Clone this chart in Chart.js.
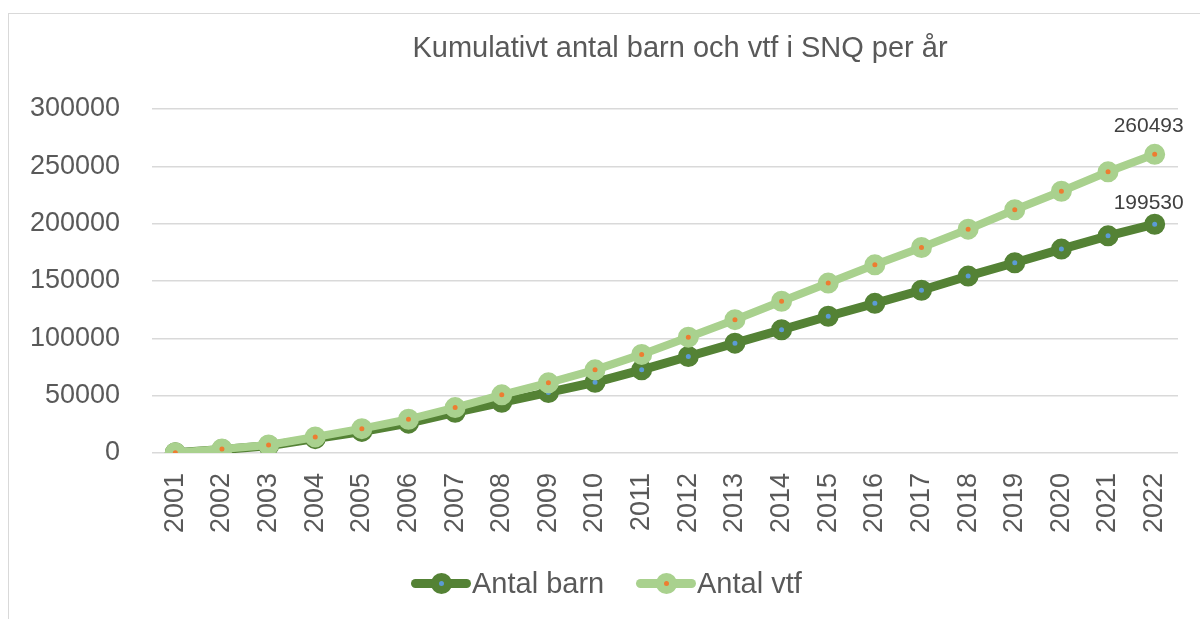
<!DOCTYPE html>
<html>
<head>
<meta charset="utf-8">
<script src="https://cdn.jsdelivr.net/npm/chart.js@4.4.1/dist/chart.umd.min.js"></script>
<style>
  html, body { margin: 0; padding: 0; background: #fff; overflow: hidden; }
  #wrap { position: relative; width: 1200px; height: 619px; overflow: hidden; font-family: "Liberation Sans", Arial, sans-serif; color: #595959; }
  #frame { position: absolute; left: 8px; top: 13px; width: 1400px; height: 800px; border: 1.5px solid #d9d9d9; box-sizing: border-box; }
  #chartBox { position: absolute; left: 0; top: 0; width: 1200px; height: 619px; }
  #title { position: absolute; left: 380px; width: 600px; top: 30px; text-align: center; font-size: 29px; line-height: 34px; }
  .leg { position: absolute; top: 566px; height: 34px; display: flex; align-items: center; font-size: 29px; line-height: 34px; }
  .sym { position: relative; width: 60px; height: 21px; margin-right: 1px; }
  .sym .ln { position: absolute; left: 0; top: 6px; width: 60px; height: 9px; border-radius: 4.5px; }
  .sym .mk { position: absolute; left: 19.5px; top: 0; width: 21px; height: 21px; border-radius: 50%; }
  .sym .dt { position: absolute; left: 27.5px; top: 8px; width: 5px; height: 5px; border-radius: 50%; }
</style>
</head>
<body>
<div id="wrap">
  <div id="frame"></div>
  <div id="chartBox"><canvas id="chart" width="1200" height="619"></canvas></div>
  <div id="title">Kumulativt antal barn och vtf i SNQ per år</div>
  <div class="leg" style="left:411px"><div class="sym"><div class="ln" style="background:#548235"></div><div class="mk" style="background:#548235"></div><div class="dt" style="background:#5b9bd5"></div></div>Antal barn</div>
  <div class="leg" style="left:636px"><div class="sym"><div class="ln" style="background:#a9d18e"></div><div class="mk" style="background:#a9d18e"></div><div class="dt" style="background:#ed7d31"></div></div>Antal vtf</div>
</div>
<script>
// data
const years = ['2001', '2002', '2003', '2004', '2005', '2006', '2007', '2008', '2009', '2010', '2011',
               '2012', '2013', '2014', '2015', '2016', '2017', '2018', '2019', '2020', '2021', '2022'];
const antalBarn = [200, 3000, 6300, 12500, 18800, 26000, 35500, 44200, 52800, 61700, 72500,
                   84200, 95800, 107500, 119300, 130500, 141900, 154300, 165900, 177800, 189400, 199530];
const antalVtf = [300, 3500, 7000, 14000, 21200, 29400, 39600, 50700, 61200, 72500, 86000,
                  101000, 116300, 132300, 148200, 164100, 179200, 195200, 212100, 228300, 245200, 260493];
const yTicks = [0, 50000, 100000, 150000, 200000, 250000, 300000];

// value label above the last point of each series
const lastLabel = {
  id: 'lastLabel',
  afterDatasetsDraw(chart) {
    const ctx = chart.ctx;
    ctx.save();
    ctx.font = '21px "Liberation Sans", Arial, sans-serif';
    ctx.fillStyle = '#404040';
    ctx.textAlign = 'center';
    ctx.textBaseline = 'middle';
    chart.data.datasets.forEach((ds, i) => {
      const meta = chart.getDatasetMeta(i);
      const n = ds.data.length - 1;
      const pt = meta.data[n];
      ctx.fillText(String(ds.data[n]), pt.x - 6, pt.y - ds.labelOffset);
    });
    ctx.restore();
  }
};

const ctx = document.getElementById('chart');

new Chart(ctx, {
  type: 'line',
  data: {
    labels: years,
    datasets: [
      {
        label: 'Antal barn',
        data: antalBarn,
        borderColor: '#548235',
        borderWidth: 9,
        pointRadius: 6.5,
        pointBorderWidth: 8,
        pointBorderColor: '#548235',
        pointBackgroundColor: '#5b9bd5',
        tension: 0,
        order: 1,
        labelOffset: 21
      },
      {
        label: 'Antal vtf',
        data: antalVtf,
        borderColor: '#a9d18e',
        borderWidth: 8,
        pointRadius: 6.5,
        pointBorderWidth: 8,
        pointBorderColor: '#a9d18e',
        pointBackgroundColor: '#ed7d31',
        tension: 0,
        order: 0,
        labelOffset: 28
      }
    ]
  },
  options: {
    responsive: false,
    animation: false,
    layout: { padding: { top: 109, right: 22, bottom: 60, left: 0 } },
    plugins: {
      legend: { display: false },
      title: { display: false },
      tooltip: { enabled: false }
    },
    scales: {
      x: {
        offset: true,
        grid: { display: false, drawTicks: false },
        border: { display: false },
        ticks: {
          color: '#595959',
          font: { family: '"Liberation Sans", Arial, sans-serif', size: 27 },
          minRotation: 90,
          maxRotation: 90,
          padding: 20,
          autoSkip: false
        },
        afterFit(scale) {
          scale.height = 106;
          scale.paddingLeft = 0;
          scale.paddingRight = 0;
        }
      },
      y: {
        min: 0,
        max: 300000,
        afterBuildTicks(scale) { scale.ticks = yTicks.map(v => ({ value: v })); },
        grid: { color: '#d9d9d9', lineWidth: 1.5, drawTicks: false },
        border: { display: false },
        ticks: {
          color: '#595959',
          font: { family: '"Liberation Sans", Arial, sans-serif', size: 27 },
          padding: 32,
          callback: v => String(v)
        },
        afterFit(scale) { scale.width = 152; }
      }
    }
  },
  plugins: [lastLabel]
});
</script>
</body>
</html>
